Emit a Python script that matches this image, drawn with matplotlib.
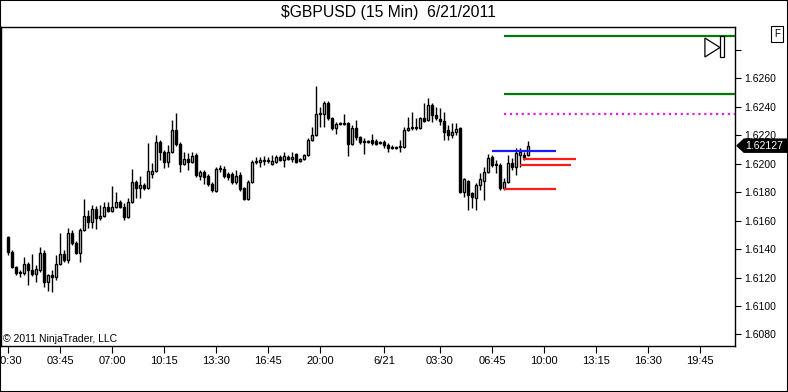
import numpy as np
import pandas as pd
import matplotlib
matplotlib.use("Agg")
import matplotlib.pyplot as plt
import matplotlib.transforms as mtransforms
from matplotlib.patches import Polygon, Rectangle

plt.rcParams['font.family'] = ['Liberation Sans', 'DejaVu Sans']

# 15 min bars, 6/20/2011 00:30 -> 6/21/2011 09:00
opens = [
    1.61485, 1.61379, 1.61274, 1.61232, 1.61232, 1.61295, 1.61253, 1.61225, 1.61253, 1.61372,
    1.61169, 1.61218, 1.61203, 1.61295, 1.61365, 1.61323, 1.61513, 1.61443, 1.61372, 1.61534,
    1.61633, 1.61590, 1.61682, 1.61618, 1.61633, 1.61696, 1.61668, 1.61696, 1.61731, 1.61696,
    1.61626, 1.61731, 1.61873, 1.61831, 1.61852, 1.61831, 1.61929, 1.61950, 1.62153, 1.62083,
    1.62013, 1.62083, 1.62237, 1.62139, 1.61999, 1.62034, 1.62013, 1.62062, 1.61915, 1.61943,
    1.61915, 1.61859, 1.61810, 1.61964, 1.61964, 1.61929, 1.61929, 1.61873, 1.61922, 1.61831,
    1.61754, 1.61873, 1.62013, 1.62013, 1.62020, 1.62027, 1.61999, 1.62013, 1.62048, 1.62027,
    1.62048, 1.62034, 1.62069, 1.62020, 1.62034, 1.62062, 1.62167, 1.62202, 1.62350, 1.62350,
    1.62427, 1.62322, 1.62251, 1.62279, 1.62279, 1.62286, 1.62139, 1.62251, 1.62188, 1.62160,
    1.62153, 1.62167, 1.62160, 1.62146, 1.62153, 1.62132, 1.62118, 1.62111, 1.62118, 1.62118,
    1.62237, 1.62251, 1.62258, 1.62251, 1.62322, 1.62307, 1.62413, 1.62343, 1.62315, 1.62300,
    1.62237, 1.62202, 1.62223, 1.62251, 1.61803, 1.61880, 1.61796, 1.61761, 1.61852, 1.61880,
    1.61943, 1.62048, 1.61992, 1.61992, 1.61831, 1.61873, 1.62006, 1.61978, 1.62062, 1.62062,
    1.62062,
]
highs = [
    1.61492, 1.61394, 1.61281, 1.61253, 1.61344, 1.61309, 1.61365, 1.61288, 1.61415, 1.61394,
    1.61225, 1.61253, 1.61358, 1.61513, 1.61394, 1.61548, 1.61534, 1.61457, 1.61548, 1.61754,
    1.61675, 1.61710, 1.61703, 1.61710, 1.61731, 1.61731, 1.61845, 1.61803, 1.61745, 1.61724,
    1.61761, 1.61964, 1.61887, 1.61915, 1.61866, 1.62146, 1.62006, 1.62202, 1.62167, 1.62097,
    1.62132, 1.62307, 1.62357, 1.62153, 1.62083, 1.62076, 1.62083, 1.62076, 1.61957, 1.61957,
    1.61929, 1.61873, 1.61978, 1.61992, 1.61985, 1.61943, 1.61943, 1.61957, 1.61943, 1.61838,
    1.61887, 1.62027, 1.62048, 1.62048, 1.62055, 1.62048, 1.62062, 1.62062, 1.62062, 1.62083,
    1.62062, 1.62083, 1.62076, 1.62041, 1.62069, 1.62181, 1.62258, 1.62546, 1.62399, 1.62441,
    1.62441, 1.62329, 1.62293, 1.62293, 1.62350, 1.62293, 1.62272, 1.62307, 1.62195, 1.62181,
    1.62167, 1.62209, 1.62174, 1.62160, 1.62167, 1.62146, 1.62132, 1.62125, 1.62167, 1.62258,
    1.62329, 1.62364, 1.62322, 1.62329, 1.62427, 1.62462, 1.62427, 1.62399, 1.62392, 1.62364,
    1.62272, 1.62286, 1.62286, 1.62258, 1.61901, 1.61887, 1.61803, 1.61866, 1.61936, 1.61978,
    1.62069, 1.62062, 1.62027, 1.62006, 1.61901, 1.62062, 1.62041, 1.62111, 1.62111, 1.62083,
    1.62160,
]
lows = [
    1.61358, 1.61267, 1.61218, 1.61203, 1.61218, 1.61147, 1.61211, 1.61169, 1.61239, 1.61133,
    1.61105, 1.61098, 1.61182, 1.61288, 1.61309, 1.61302, 1.61429, 1.61365, 1.61309, 1.61527,
    1.61548, 1.61548, 1.61541, 1.61604, 1.61626, 1.61661, 1.61661, 1.61689, 1.61689, 1.61604,
    1.61618, 1.61724, 1.61761, 1.61761, 1.61817, 1.61824, 1.61901, 1.61943, 1.62027, 1.61971,
    1.61978, 1.62076, 1.62125, 1.61943, 1.61992, 1.61957, 1.62006, 1.61908, 1.61887, 1.61859,
    1.61845, 1.61803, 1.61803, 1.61943, 1.61901, 1.61887, 1.61859, 1.61859, 1.61810, 1.61745,
    1.61745, 1.61866, 1.61999, 1.61978, 1.61992, 1.62006, 1.61992, 1.62006, 1.62020, 1.61978,
    1.62027, 1.62013, 1.62006, 1.62013, 1.62027, 1.62055, 1.62160, 1.62195, 1.62258, 1.62258,
    1.62307, 1.62237, 1.62209, 1.62272, 1.62272, 1.62055, 1.62132, 1.62167, 1.62139, 1.62069,
    1.62146, 1.62132, 1.62132, 1.62139, 1.62111, 1.62083, 1.62104, 1.62104, 1.62083, 1.62111,
    1.62230, 1.62237, 1.62237, 1.62244, 1.62293, 1.62300, 1.62293, 1.62307, 1.62272, 1.62167,
    1.62167, 1.62181, 1.62202, 1.61796, 1.61768, 1.61675, 1.61689, 1.61675, 1.61817, 1.61745,
    1.61936, 1.61978, 1.61936, 1.61817, 1.61817, 1.61866, 1.61957, 1.61922, 1.61978, 1.62027,
    1.62055,
]
closes = [
    1.61379, 1.61274, 1.61232, 1.61239, 1.61295, 1.61253, 1.61225, 1.61260, 1.61372, 1.61169,
    1.61218, 1.61203, 1.61295, 1.61365, 1.61323, 1.61513, 1.61443, 1.61372, 1.61534, 1.61633,
    1.61590, 1.61682, 1.61618, 1.61633, 1.61696, 1.61668, 1.61696, 1.61731, 1.61696, 1.61626,
    1.61731, 1.61873, 1.61831, 1.61852, 1.61831, 1.61950, 1.61950, 1.62153, 1.62083, 1.62013,
    1.62083, 1.62237, 1.62139, 1.61999, 1.62034, 1.62013, 1.62055, 1.61922, 1.61943, 1.61908,
    1.61859, 1.61817, 1.61964, 1.61971, 1.61915, 1.61908, 1.61873, 1.61915, 1.61824, 1.61754,
    1.61873, 1.62013, 1.62020, 1.62027, 1.62027, 1.62020, 1.62020, 1.62048, 1.62027, 1.62055,
    1.62034, 1.62048, 1.62013, 1.62034, 1.62062, 1.62167, 1.62202, 1.62350, 1.62357, 1.62427,
    1.62322, 1.62251, 1.62279, 1.62286, 1.62286, 1.62139, 1.62251, 1.62188, 1.62153, 1.62153,
    1.62160, 1.62146, 1.62139, 1.62153, 1.62132, 1.62111, 1.62111, 1.62118, 1.62125, 1.62237,
    1.62251, 1.62258, 1.62251, 1.62322, 1.62300, 1.62413, 1.62343, 1.62322, 1.62300, 1.62223,
    1.62202, 1.62223, 1.62244, 1.61803, 1.61894, 1.61782, 1.61768, 1.61852, 1.61894, 1.61943,
    1.62041, 1.61992, 1.61999, 1.61831, 1.61873, 1.62006, 1.61978, 1.62076, 1.62083, 1.62041,
    1.62127,
]

# horizontal levels drawn on the chart
level_prices = [1.62898, 1.62490, 1.62350, 1.62090, 1.62033, 1.61991, 1.61822]
level_start = ["2011-06-21 07:30", "2011-06-21 07:30", "2011-06-21 07:30", "2011-06-21 06:45",
               "2011-06-21 08:41", "2011-06-21 08:30", "2011-06-21 07:30"]
level_end = [None, None, None, "2011-06-21 10:45", "2011-06-21 12:00",
             "2011-06-21 11:41", "2011-06-21 10:45"]
level_colors = ['#007a00', '#007a00', '#dd22dd', '#1a1aff', '#ff1a1a', '#ff1a1a', '#ff1a1a']
level_styles = ['-', '-', ':', '-', '-', '-', '-']

tick_times = ["2011-06-20 00:30", "2011-06-20 03:45", "2011-06-20 07:00", "2011-06-20 10:15",
              "2011-06-20 13:30", "2011-06-20 16:45", "2011-06-20 20:00", "2011-06-21 00:00",
              "2011-06-21 03:30", "2011-06-21 06:45", "2011-06-21 10:00", "2011-06-21 13:15",
              "2011-06-21 16:30", "2011-06-21 19:45"]
tick_labels = ["00:30", "03:45", "07:00", "10:15", "13:30", "16:45", "20:00", "6/21",
               "03:30", "06:45", "10:00", "13:15", "16:30", "19:45"]
ytick_values = [1.6080, 1.6100, 1.6120, 1.6140, 1.6160, 1.6180, 1.6200,
                1.6220, 1.6240, 1.6260, 1.6280]

o = np.array(opens)
h = np.array(highs)
l = np.array(lows)
c = np.array(closes)

t0 = pd.Timestamp("2011-06-20 00:30")
step = pd.Timedelta(minutes=15)


def slot(t):
    return (pd.Timestamp(t) - t0) / step


x = np.arange(len(c))

fig = plt.figure(figsize=(7.88, 3.92), dpi=100)
ax = fig.add_axes([1 / 788, 46 / 392, 734 / 788, 319 / 392])
x_lo, x_hi = -1.75, 181.75
ax.set_xlim(x_lo, x_hi)
ax.set_ylim(1.607186, 1.629612)

# candles
up = c >= o
body_lo = np.minimum(o, c)
body_h = np.maximum(np.abs(c - o), 0.00002)
ax.vlines(x, l, h, color='black', lw=1.0, zorder=2)
ax.bar(x, body_h, bottom=body_lo, width=0.7,
       color=np.where(up, 'white', 'black'), edgecolor='black', linewidth=1.0, zorder=3)

# levels
for p, s, e, col, ls in zip(level_prices, level_start, level_end, level_colors, level_styles):
    xe = x_hi if e is None else slot(e)
    ax.hlines(p, slot(s), xe, colors=col, linestyles=ls, lw=1.6, zorder=4)

# axes styling
ax.yaxis.tick_right()
ax.set_yticks(ytick_values)
ax.set_yticklabels([f"{v:.4f}" if v < 1.627 else "" for v in ytick_values])
ax.set_xticks([slot(t) for t in tick_times])
ax.set_xticklabels(tick_labels)
ax.tick_params(axis='y', direction='out', length=4.5, width=0.8, pad=2, labelsize=7.5)
ax.tick_params(axis='x', direction='out', length=5, width=0.8, pad=2, labelsize=8)
for sp in ax.spines.values():
    sp.set_linewidth(1.0)
    sp.set_color('black')

# last price marker
trans = mtransforms.blended_transform_factory(ax.transAxes, ax.transData)
last = c[-1]
half = 0.00046
ax.add_patch(Polygon([(1.0027, last), (1.0123, last + half), (1.0708, last + half),
                      (1.0708, last - half), (1.0123, last - half)],
                     closed=True, transform=trans, clip_on=False, facecolor='black',
                     edgecolor='black', zorder=10))
ax.text(1.0136, last, f"{last:.5f}", transform=trans, color='white', fontsize=7.5,
        va='center', ha='left', clip_on=False, zorder=11)

# play / pause glyph top right
ax.add_patch(Polygon([(0.959, 0.9655), (0.959, 0.906), (0.9796, 0.9357)], closed=True,
                     transform=ax.transAxes, facecolor='white', edgecolor='black', lw=0.9,
                     zorder=6))
ax.add_patch(Rectangle((0.9796, 0.906), 0.0054, 0.066, transform=ax.transAxes,
                       facecolor='white', edgecolor='black', lw=0.9, zorder=6))

ax.text(0.0027, 0.022, "© 2011 NinjaTrader, LLC", transform=ax.transAxes,
        fontsize=7.5, va='center', ha='left')

fig.text(0.493, 1 - 12 / 392, "$GBPUSD (15 Min)  6/21/2011", ha='center', va='center',
         fontsize=11.3, parse_math=False)
fig.text(777 / 788, 1 - 34 / 392, "F", ha='center', va='center', fontsize=7,
         bbox=dict(boxstyle='square,pad=0.3', fc='white', ec='black', lw=0.8))

fig.add_artist(Rectangle((0, 0), 1, 1, transform=fig.transFigure, fill=False,
                         ec='black', lw=1.5))

fig.savefig("out.png", dpi=100)
